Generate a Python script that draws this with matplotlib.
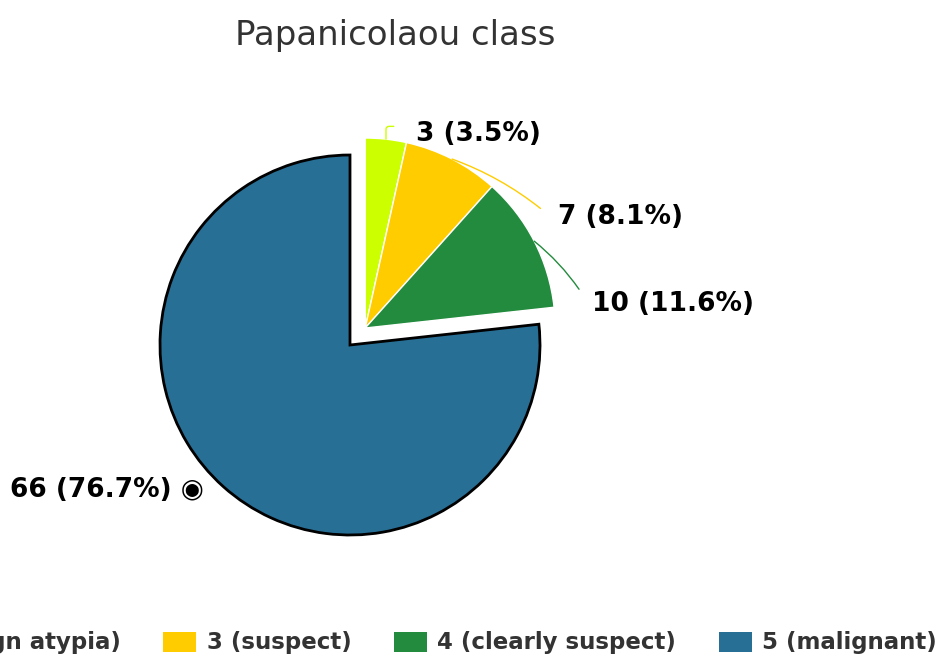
import numpy as np
import matplotlib as mtp
mtp.use("Agg")
import matplotlib.pyplot as plt

# data
labels = ['2 (benign atypia)', '3 (suspect)', '4 (clearly suspect)', '5 (malignant)']
counts = [3, 7, 10, 66]
colors = ['#ccff00', '#ffcc00', '#238b3d', '#286f96']
# label offsets from the wedge edge, in pixels
label_off = [(30, 5), (106, -58), (58, -63), (-19, -3)]

plt.rcParams['font.family'] = ['DejaVu Sans']

W, H = 941, 661
fig = plt.figure(figsize=(W / 100, H / 100), dpi=100)

cx, cy, r = 350 / W, 1 - 345 / H, 190
ax = fig.add_axes([cx - r / W, cy - r / H, 2 * r / W, 2 * r / H])

wedges, _ = ax.pie(counts, colors=colors, startangle=90, counterclock=False,
                   radius=1, wedgeprops=dict(edgecolor='white', linewidth=1))
ax.set_xlim(-1, 1)
ax.set_ylim(-1, 1)
ax.set_aspect('equal')
ax.axis('off')

# the three small slices are pulled out together
total = sum(counts)
grp = sum(counts[:3]) / total
mid = np.deg2rad(90 - grp * 360 / 2)
dx, dy = 0.12 * np.cos(mid), 0.12 * np.sin(mid)
for w in wedges[:3]:
    w.set_center((dx, dy))
    w.set_clip_on(False)
wedges[3].set_edgecolor('black')
wedges[3].set_linewidth(2)
wedges[3].set_clip_on(False)

conn = ['angle,angleA=0,angleB=90,rad=3', 'arc3,rad=0.1', 'arc3,rad=0.1', None]
rel = [(0, 0.8), (0, 0.25), (0, 0.25), None]
for i, w in enumerate(wedges):
    th = np.deg2rad((w.theta1 + w.theta2) / 2)
    c = w.center
    ex, ey = c[0] + np.cos(th), c[1] + np.sin(th)
    pct = counts[i] / total * 100
    txt = '{} ({:.1f}%)'.format(counts[i], pct)
    if i == 3:
        txt += ' \u25c9'
        ax.annotate(txt, xy=(ex, ey), xytext=label_off[i], textcoords='offset pixels',
                    ha='right', va='center', fontsize=19, fontweight='bold',
                    color='black', annotation_clip=False)
    else:
        ax.annotate(txt, xy=(ex, ey), xytext=label_off[i], textcoords='offset pixels',
                    ha='left', va='center', fontsize=19, fontweight='bold',
                    color='black', annotation_clip=False,
                    arrowprops=dict(arrowstyle='-', color=colors[i], lw=1,
                                    relpos=rel[i], shrinkA=14, shrinkB=0,
                                    connectionstyle=conn[i]))

fig.text(395 / W, 1 - 35 / H, 'Papanicolaou class', ha='center', va='center',
         fontsize=24.5, color='#333333')

leg = fig.legend(wedges, labels, loc='center', bbox_to_anchor=(396 / W, 1 - 643 / H),
                 ncol=4, frameon=False, fontsize=16.5, handlelength=1.45,
                 handleheight=0.95, handletextpad=0.45, columnspacing=1.85)
for t in leg.get_texts():
    t.set_fontweight('bold')
    t.set_color('#333333')
for h in leg.legend_handles:
    h.set_edgecolor('none')
    h.set_linewidth(0)

fig.savefig('out.png', dpi=100)
